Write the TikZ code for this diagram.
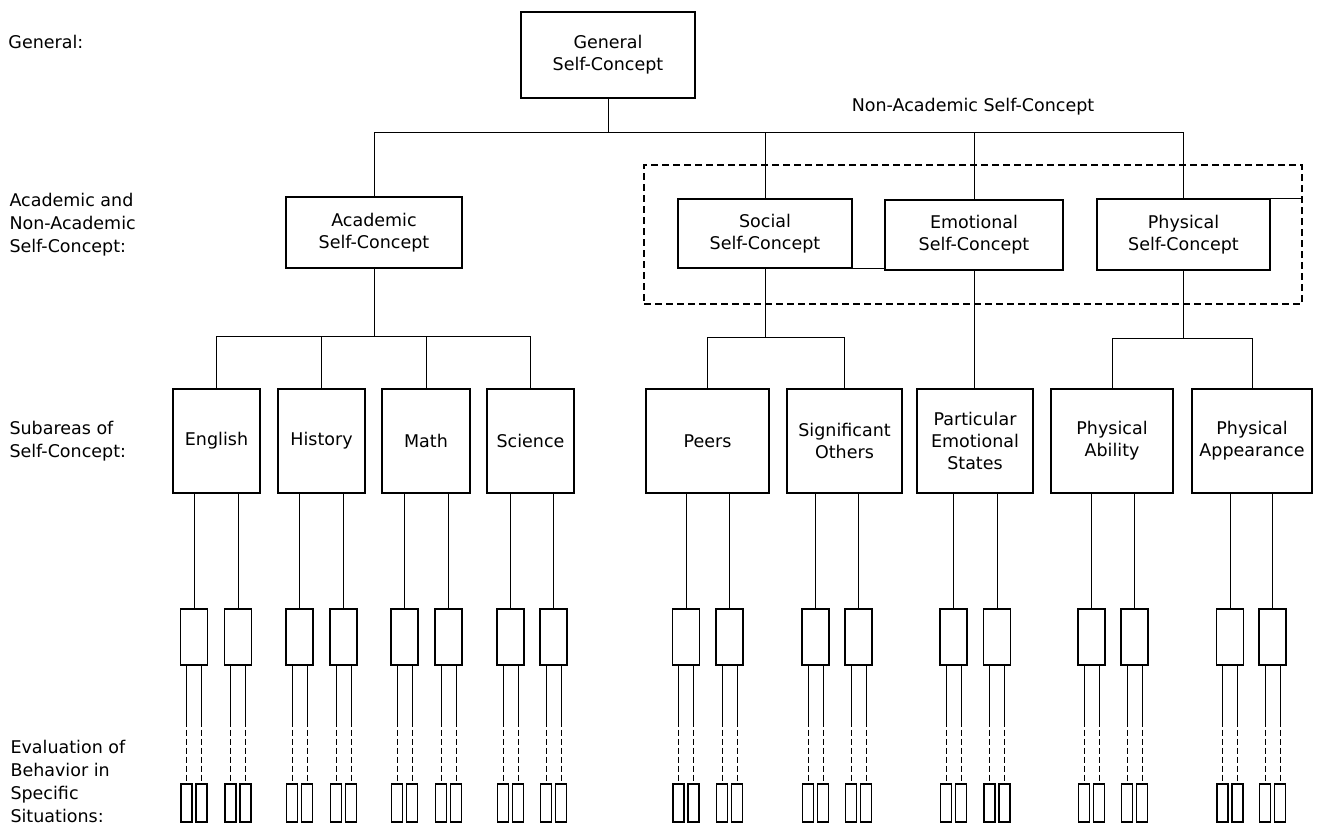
\documentclass[tikz,border=0pt]{standalone}
\usepackage{fontspec}
\setmainfont{DejaVu Sans}
\begin{document}
\begin{tikzpicture}[x=1pt,y=-1pt,line width=1pt,
  box/.style={draw,line width=1.2pt,inner sep=0pt,align=center,font=\fontsize{17.5}{22}\selectfont},
  sbox/.style={draw,line width=1.2pt,inner sep=0pt,minimum width=27pt,minimum height=56pt},
  tbox/.style={draw,line width=1.1pt,inner sep=0pt,minimum width=11pt,minimum height=38pt},
  lbl/.style={anchor=west,align=left,inner sep=0pt,font=\fontsize{17.5}{23}\selectfont}]
\useasboundingbox (0,0) rectangle (1319,825);

% level labels
\node[lbl] (lgen) at (8,42) {General:};
\node[lbl] (lacad) at (9,225) {Academic and\\Non-Academic\\Self-Concept:};
\node[lbl] (lsub) at (9,441) {Subareas of\\Self-Concept:};
\node[lbl] (leval) at (10,781) {Evaluation of\\Behavior in\\Specific\\Situations:};

% general and second level
\node[box,minimum width=174pt,minimum height=86pt] (gen) at (608,55) {General\\Self-Concept};
\node[box,minimum width=176pt,minimum height=71pt] (acad) at (374,232.5) {Academic\\Self-Concept};
\node[draw,dashed,dash pattern=on 7pt off 4pt,line width=1.1pt,minimum width=658pt,minimum height=139pt] (nonacad) at (973,234.5) {};
\node[font=\fontsize{17.5}{22}\selectfont] (nonlbl) at (973,107) {Non-Academic Self-Concept};
\node[box,minimum width=174pt,minimum height=69pt] (social) at (765,233.5) {Social\\Self-Concept};
\node[box,minimum width=178pt,minimum height=70pt] (emot) at (974,235) {Emotional\\Self-Concept};
\node[box,minimum width=173pt,minimum height=71pt] (phys) at (1183.5,234.5) {Physical\\Self-Concept};

\coordinate (top) at (608,132);
\draw (gen.south) -- (top);
\draw (acad.north) -- (acad.north |- top) -- (phys.north |- top) -- (phys.north);
\draw (social.north) -- (social.north |- top);
\draw (emot.north) -- (emot.north |- top);
\draw (social.south east) -- (social.south east -| emot.west);
\draw (phys.north east) -- (phys.north east -| nonacad.east);

% subareas
\foreach \n/\x/\w/\t in {eng/216.5/87/English, hist/321.5/87/History, math/426/88/Math,
    sci/530.5/87/Science, peers/707.5/123/Peers, sig/844.5/115/{Significant\\Others},
    pes/975/116/{Particular\\Emotional\\States}, pab/1112/122/{Physical\\Ability},
    pap/1252/120/{Physical\\Appearance}}
  \node[box,minimum width=\w pt,minimum height=104pt] (\n) at (\x,441) {\t};

\coordinate (abar) at (374,336);
\draw (acad.south) -- (abar);
\draw (eng.north) -- (eng.north |- abar) -- (sci.north |- abar) -- (sci.north);
\draw (hist.north) -- (hist.north |- abar);
\draw (math.north) -- (math.north |- abar);

\coordinate (sbar) at (765,337);
\draw (social.south) -- (sbar);
\draw (peers.north) -- (peers.north |- sbar) -- (sig.north |- sbar) -- (sig.north);

\draw (emot.south) -- (emot.south |- pes.north);

\coordinate (pbar) at (1183.5,338);
\draw (phys.south) -- (pbar);
\draw (pab.north) -- (pab.north |- pbar) -- (pap.north |- pbar) -- (pap.north);

% behaviour in specific situations
\foreach \n/\a/\b in {eng/194/238, hist/299.5/343.5, math/404.5/448.5, sci/510.5/553.5,
    peers/686/729.5, sig/815.5/858.5, pes/953.5/997, pab/1091.5/1134.5, pap/1230/1272.5}{
  \foreach \k/\c in {1/\a, 2/\b}{
    \node[sbox] (\n\k) at (\c,637) {};
    \draw (\n\k.north |- \n.south) -- (\n\k.north);
    \foreach \j/\d in {1/-7.5, 2/7.5}{
      \node[tbox] (\n\k\j) at (\c+\d,803) {};
      \draw (\n\k.south -| \n\k\j.north) -- ++(0,55) coordinate (m\n\k\j);
      \draw[dashed,dash pattern=on 6pt off 3pt] (m\n\k\j) -- (\n\k\j.north);
    }
  }
}
\end{tikzpicture}
\end{document}
